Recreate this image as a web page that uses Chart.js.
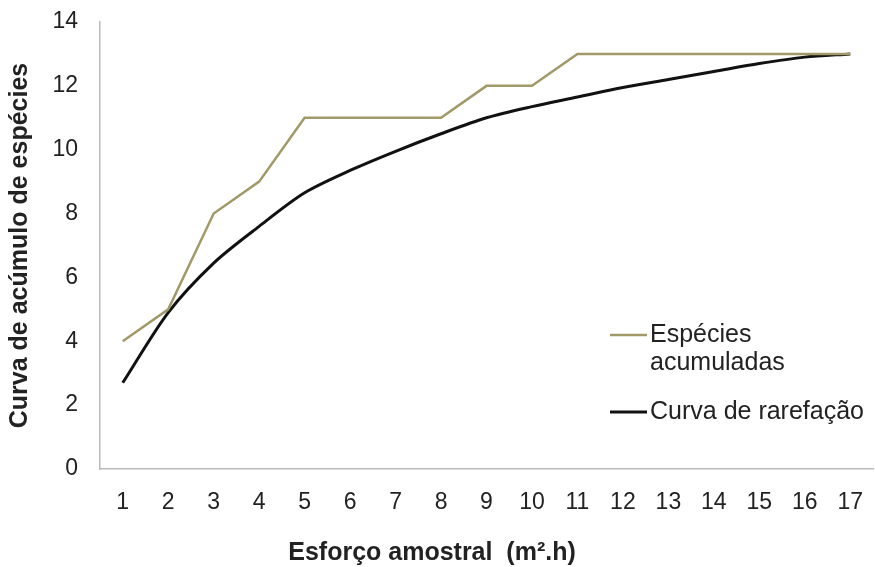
<!DOCTYPE html>
<html>
<head>
<meta charset="utf-8">
<script src="https://cdn.jsdelivr.net/npm/chart.js@4.4.1/dist/chart.umd.min.js"></script>
<style>
    html, body { margin: 0; padding: 0; background: #fff; }
    #wrap { width: 875px; height: 567px; position: relative; }
</style>
</head>
<body>
<div id="wrap"><canvas id="curveChart"></canvas></div>
<script>
// sampling effort (m2.h)
const effort = ['1', '2', '3', '4', '5', '6', '7', '8', '9', '10', '11', '12', '13', '14', '15', '16', '17'];
// accumulated species
const accumulated = [4, 5, 8, 9, 11, 11, 11, 11, 12, 12, 13, 13, 13, 13, 13, 13, 13];
// rarefaction curve
const rarefaction = [2.7, 4.9, 6.45, 7.6, 8.65, 9.35, 9.95, 10.5, 11.0, 11.35, 11.65, 11.95, 12.2, 12.45, 12.7, 12.9, 13.0];
const yTicks = [0, 2, 4, 6, 8, 10, 12, 14];

const FONT = "'Liberation Sans', Arial, sans-serif";

// legend drawn inside the plot, with wrapped labels
const insideLegend = {
    id: 'insideLegend',
    afterDraw(chart) {
        const ctx = chart.ctx;
        const lines = [['Espécies', 'acumuladas'], ['Curva de rarefação']];
        const ys = [335, 412];
        ctx.save();
        ctx.font = '25px ' + FONT;
        ctx.textBaseline = 'middle';
        ctx.fillStyle = '#222';
        chart.data.datasets.forEach((ds, i) => {
            ctx.strokeStyle = ds.borderColor;
            ctx.lineWidth = ds.borderWidth;
            ctx.beginPath();
            ctx.moveTo(610, ys[i]);
            ctx.lineTo(647, ys[i]);
            ctx.stroke();
            lines[i].forEach((t, j) => ctx.fillText(t, 650, ys[i] + j * 28));
        });
        // x axis title, centred on the page
        ctx.font = 'bold 25px ' + FONT;
        ctx.textAlign = 'center';
        ctx.fillText('Esforço amostral  (m².h)', 432, 553);
        ctx.restore();
    }
};

new Chart(document.getElementById('curveChart'), {
    type: 'line',
    data: {
        labels: effort,
        datasets: [{
            label: 'Espécies acumuladas',
            data: accumulated,
            borderColor: '#a19a68',
            borderWidth: 2.5,
            pointRadius: 0,
            tension: 0
        }, {
            label: 'Curva de rarefação',
            data: rarefaction,
            borderColor: '#111',
            borderWidth: 3,
            pointRadius: 0,
            tension: 0.3
        }]
    },
    options: {
        responsive: true,
        maintainAspectRatio: false,
        animation: false,
        layout: { padding: { top: 22, right: 2, left: 0, bottom: 0 } },
        plugins: {
            legend: { display: false },
            tooltip: { enabled: false }
        },
        scales: {
            x: {
                offset: true,
                grid: { display: false, drawTicks: false },
                border: { color: '#bbb', width: 1.5 },
                ticks: { color: '#222', padding: 20, font: { family: FONT, size: 23 }, maxRotation: 0 },
                afterFit(s) {
                    s.height = 98;
                    s.paddingLeft = 0;
                    s.paddingRight = 0;
                }
            },
            y: {
                min: 0,
                max: 14,
                grid: { display: false, drawTicks: false },
                border: { color: '#bbb', width: 1.5 },
                afterBuildTicks(s) { s.ticks = yTicks.map(v => ({ value: v })); },
                ticks: { color: '#222', padding: 22, font: { family: FONT, size: 23 } },
                title: {
                    display: true,
                    text: 'Curva de acúmulo de espécies',
                    color: '#222',
                    font: { family: FONT, size: 25, weight: 'bold' },
                    padding: { top: 5, bottom: 0 }
                },
                afterFit(s) {
                    s.width = 100;
                    s.paddingTop = 0;
                    s.paddingBottom = 0;
                }
            }
        }
    },
    plugins: [insideLegend]
});
</script>
</body>
</html>
